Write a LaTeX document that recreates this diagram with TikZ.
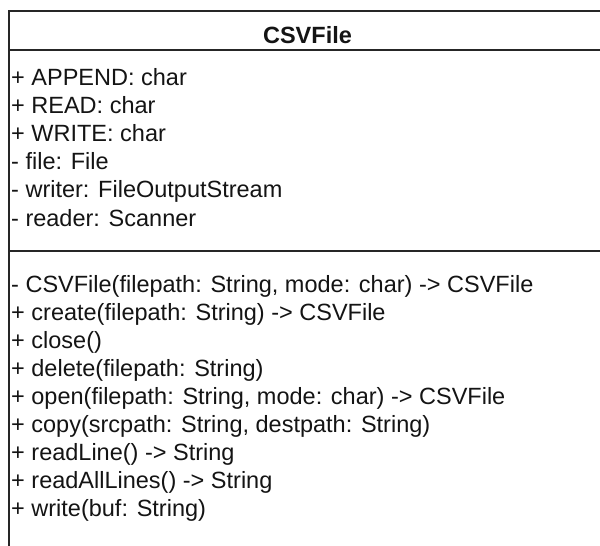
\documentclass[tikz,border=0pt]{standalone}
\usepackage{fontspec}
\setmainfont{Liberation Sans}
\begin{document}
\begin{tikzpicture}[x=1pt,y=-1pt,
  member/.style={anchor=base west,inner sep=0pt,font=\fontsize{23.5}{28}\selectfont,text=black!92},
  titletext/.style={anchor=base,inner sep=0pt,font=\fontsize{23.5}{28}\selectfont\bfseries,text=black!92},
  border/.style={line width=1.6pt,draw=black!85}]
\useasboundingbox (0,0) rectangle (600,546);
\clip (0,0) rectangle (600,546);
\fill[white] (0,0) rectangle (600,546);
% class box
\coordinate (tl) at (9,11);
\coordinate (tr) at (620,11);
\coordinate (bl) at (9,560);
\coordinate (hl) at (9,50);
\coordinate (hr) at (620,50);
\coordinate (sl) at (9,251);
\coordinate (sr) at (620,251);
\draw[border] (bl) -- (tl) -- (tr);
\draw[border] (hl) -- (hr);
\draw[border] (sl) -- (sr);
% title
\node[titletext] (title) at (307.5,43) {CSVFile};
% attributes
\node[member] (a1) at (11,85) {+ APPEND: char};
\node[member] (a2) at (11,113.2) {+ READ: char};
\node[member] (a3) at (11,141.4) {+ WRITE: char};
\node[member] (a4) at (11,169.6) {- file: File};
\node[member] (a5) at (11,197.8) {- writer: FileOutputStream};
\node[member] (a6) at (11,226) {- reader: Scanner};
% methods
\node[member] (m1) at (11,292) {- CSVFile(filepath: String, mode: char) -> CSVFile};
\node[member] (m2) at (11,320) {+ create(filepath: String) -> CSVFile};
\node[member] (m3) at (11,348) {+ close()};
\node[member] (m4) at (11,376) {+ delete(filepath: String)};
\node[member] (m5) at (11,404) {+ open(filepath: String, mode: char) -> CSVFile};
\node[member] (m6) at (11,432) {+ copy(srcpath: String, destpath: String)};
\node[member] (m7) at (11,460) {+ readLine() -> String};
\node[member] (m8) at (11,488) {+ readAllLines() -> String};
\node[member] (m9) at (11,516) {+ write(buf: String)};
\end{tikzpicture}
\end{document}
